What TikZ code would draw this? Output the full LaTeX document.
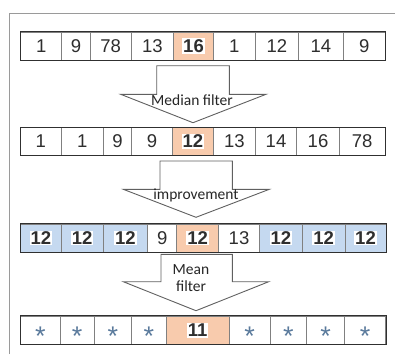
\documentclass[tikz,border=0pt]{standalone}
\usepackage{fontspec}
\setmainfont{Liberation Sans}
\newfontfamily\calfont{Carlito}
\definecolor{peach}{HTML}{F8CBAD}
\definecolor{lblue}{HTML}{C5D9F0}
\definecolor{txt}{HTML}{2E2E2E}
\definecolor{sepgray}{HTML}{808080}
\definecolor{edgedark}{HTML}{303030}
\definecolor{frame}{HTML}{9A9A9A}
\definecolor{arrowgray}{HTML}{606060}
\definecolor{astc}{HTML}{5A7A9C}
\newcommand\whbox[1]{{\setlength{\fboxsep}{1pt}\colorbox{white}{\bfseries #1}}}
\newcommand\astk{\textcolor{astc}{\fontsize{27}{27}\selectfont\raisebox{-14.8pt}[0pt][0pt]{*}}}
\begin{document}
\begin{tikzpicture}[x=1pt,y=-1pt,
  cell/.style={draw=sepgray, line width=0.9pt, minimum height=28pt, inner sep=0pt,
    text=txt, font=\fontsize{18.5}{18.5}\selectfont},
  plain/.style={fill=white},
  pk/.style={fill=peach},
  bl/.style={fill=lblue},
  rowedge/.style={draw=edgedark, line width=1pt},
  bigarrow/.style={draw=arrowgray, line width=0.9pt, fill=white, line join=miter},
  lbl/.style={font=\calfont\fontsize{15.5}{17}\selectfont, text=black!85, inner sep=0pt, align=center}]
\useasboundingbox (0,0) rectangle (395,354);
% frame
\draw[frame, line width=1.5pt] (9.5,354) -- (9.5,13.5) -- (395,13.5);

% row 1
\foreach \n/\a/\b/\t/\s in {1/20.7/61.7/1/plain, 2/61.7/90.3/9/plain, 3/90.3/131/78/plain,
  4/131/173.7/13/plain, 5/173.7/213.3/\whbox{16}/pk, 6/213.3/255.3/1/plain,
  7/255.3/298.3/12/plain, 8/298.3/343.3/14/plain, 9/343.3/385.3/9/plain}
  {\node[cell,\s,minimum width={(\b-\a)*1pt}] (r1c\n) at ({(\a+\b)/2},46) {\t};}
\draw[rowedge] (r1c1.north west) rectangle (r1c9.south east);

% arrow 1
\draw[bigarrow] (156.7,65.7) -- (229.3,65.7) -- (229.3,94.3) -- (266,94.3)
  -- (193,122.7) -- (120.7,94.3) -- (156.7,94.3) -- cycle;
\node[lbl] (l1) at (192,100) {Median filter};

% row 2
\foreach \n/\a/\b/\t/\s in {1/20.7/61/1/plain, 2/61/103.3/1/plain, 3/103.3/131.7/9/plain,
  4/131.7/172.3/9/plain, 5/172.3/213.3/\whbox{12}/pk, 6/213.3/255.3/13/plain,
  7/255.3/296.7/14/plain, 8/296.7/339.3/16/plain, 9/339.3/385/78/plain}
  {\node[cell,\s,minimum width={(\b-\a)*1pt}] (r2c\n) at ({(\a+\b)/2},141.5) {\t};}
\draw[rowedge] (r2c1.north west) rectangle (r2c9.south east);

% arrow 2
\draw[bigarrow] (160,161) -- (232.3,161) -- (232.3,189.3) -- (269.3,189.3)
  -- (196,217.3) -- (123.3,189.3) -- (160,189.3) -- cycle;
\node[lbl] (l2) at (196,195) {improvement};

% row 3
\foreach \n/\a/\b/\t/\s in {1/20.7/61/\whbox{12}/bl, 2/61/103.3/\whbox{12}/bl, 3/103.3/147.7/\whbox{12}/bl,
  4/147.7/176.7/9/plain, 5/176.7/218.7/\whbox{12}/pk, 6/218.7/259.3/13/plain,
  7/259.3/302.3/\whbox{12}/bl, 8/302.3/345/\whbox{12}/bl, 9/345/386/\whbox{12}/bl}
  {\node[cell,\s,minimum width={(\b-\a)*1pt}] (r3c\n) at ({(\a+\b)/2},238) {\t};}
\draw[rowedge] (r3c1.north west) rectangle (r3c9.south east);

% arrow 3
\draw[bigarrow] (161,254.3) -- (232.3,254.3) -- (232.3,281.7) -- (268.7,281.7)
  -- (196,310.7) -- (123.3,281.7) -- (161,281.7) -- cycle;
\node[lbl] (l3) at (191,278) {Mean\\filter};

% row 4
\foreach \n/\a/\b/\t/\s in {1/20.7/60/\astk/plain, 2/60/94.3/\astk/plain, 3/94.3/131.7/\astk/plain,
  4/131.7/166/\astk/plain, 5/166/229.3/\whbox{11}/pk, 6/229.3/270/\astk/plain,
  7/270/306.7/\astk/plain, 8/306.7/344.3/\astk/plain, 9/344.3/385.7/\astk/plain}
  {\node[cell,\s,minimum width={(\b-\a)*1pt}] (r4c\n) at ({(\a+\b)/2},330.2) {\t};}
\draw[rowedge] (r4c1.north west) rectangle (r4c9.south east);
\end{tikzpicture}
\end{document}
